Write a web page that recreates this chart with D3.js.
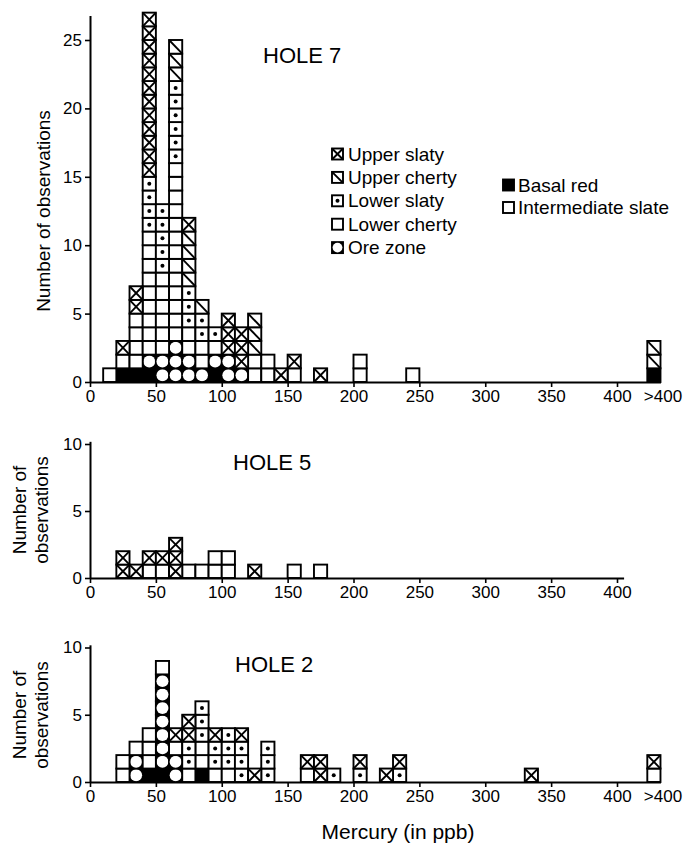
<!DOCTYPE html>
<html>
<head>
<meta charset="utf-8">
<script src="https://cdn.jsdelivr.net/npm/d3@7"></script>
<style>
body { margin: 0; background: #fff; }
text { font-family: "Liberation Sans", Arial, Helvetica, sans-serif; fill: #000; }
</style>
</head>
<body>
<svg width="688" height="847"></svg>
<script>
// rock units, in the order they stack from the bottom of each column
var units = ["BR", "OZ", "LC", "LS", "UC", "US"];
var unitNames = { US: "Upper slaty", UC: "Upper cherty", LS: "Lower slaty",
  LC: "Lower cherty", OZ: "Ore zone", BR: "Basal red", IS: "Intermediate slate" };
var legendLeft = ["US", "UC", "LS", "LC", "OZ"];
var legendRight = ["BR", "IS"];

var xTicks = [0, 50, 100, 150, 200, 250, 300, 350, 400];

// hole 7 - bins are 10 ppb wide, named by their lower edge
var hole7Bins = ["10", "20", "30", "40", "50", "60", "70", "80", "90", "100", "110", "120", "130", "140", "150", "170", "200", "240", ">400"];
var hole7 = {
  BR: [0, 1, 1, 1, 0, 0, 0, 0, 1, 0, 0, 0, 0, 0, 0, 0, 0, 0, 1],
  OZ: [0, 0, 0, 1, 2, 3, 2, 1, 1, 2, 1, 0, 0, 0, 0, 0, 0, 0, 0],
  LC: [1, 1, 4, 9, 6, 13, 2, 2, 1, 0, 0, 2, 2, 0, 1, 0, 2, 1, 0],
  LS: [0, 0, 0, 4, 5, 6, 3, 2, 1, 0, 0, 0, 0, 0, 0, 0, 0, 0, 0],
  UC: [0, 0, 0, 0, 0, 3, 4, 1, 0, 0, 0, 3, 0, 0, 0, 0, 0, 0, 2],
  US: [0, 1, 2, 12, 0, 0, 1, 0, 0, 3, 3, 0, 0, 1, 1, 1, 0, 0, 0]
};

// hole 5
var hole5Bins = ["20", "30", "40", "50", "60", "70", "80", "90", "100", "120", "150", "170"];
var hole5 = {
  LC: [0, 0, 1, 1, 0, 1, 1, 2, 2, 0, 1, 1],
  US: [2, 1, 1, 1, 3, 0, 0, 0, 0, 1, 0, 0]
};

// hole 2
var hole2Bins = ["20", "30", "40", "50", "60", "70", "80", "90", "100", "110", "120", "130", "160", "170", "180", "200", "220", "230", "330", ">400"];
var hole2 = {
  BR: [0, 0, 1, 1, 0, 0, 1, 0, 0, 0, 0, 0, 0, 0, 0, 0, 0, 0, 0, 0],
  OZ: [0, 2, 0, 7, 2, 0, 0, 0, 0, 0, 0, 0, 0, 0, 0, 0, 0, 0, 0, 0],
  LC: [2, 1, 3, 1, 1, 1, 2, 1, 1, 0, 0, 0, 1, 0, 0, 0, 0, 0, 0, 1],
  LS: [0, 0, 0, 0, 0, 2, 3, 2, 3, 3, 0, 3, 0, 0, 1, 1, 0, 1, 0, 0],
  US: [0, 0, 0, 0, 1, 2, 0, 1, 0, 1, 1, 0, 1, 2, 0, 1, 1, 1, 1, 1]
};

var svg = d3.select("svg");
var x = d3.scaleLinear().domain([0, 400]).range([90, 617]);
var overflowStart = 423;   // where the ">400" column sits on the axis

function binStart(b) { return b === ">400" ? overflowStart : +b; }

// one square of the pattern for a unit
function drawCell(g, x0, y0, w, h, code) {
  var sw = 1.9;
  var fill = (code === "BR" || code === "OZ") ? "#000" : "#fff";
  g.append("rect").attr("x", x0).attr("y", y0).attr("width", w).attr("height", h)
    .attr("fill", fill).attr("stroke", "#000").attr("stroke-width", sw);
  if (code === "OZ") {
    g.append("circle").attr("cx", x0 + w / 2).attr("cy", y0 + h / 2)
      .attr("r", Math.min(w, h) / 2 - 0.6).attr("fill", "#fff");
  }
  if (code === "LS") {
    g.append("circle").attr("cx", x0 + w / 2).attr("cy", y0 + h / 2)
      .attr("r", 2).attr("fill", "#000");
  }
  if (code === "UC" || code === "US") {
    g.append("line").attr("x1", x0).attr("y1", y0).attr("x2", x0 + w).attr("y2", y0 + h)
      .attr("stroke", "#000").attr("stroke-width", sw);
  }
  if (code === "US") {
    g.append("line").attr("x1", x0 + w).attr("y1", y0).attr("x2", x0).attr("y2", y0 + h)
      .attr("stroke", "#000").attr("stroke-width", sw);
  }
}

function panel(cfg) {
  var y = d3.scaleLinear().domain([0, cfg.yMax]).range([cfg.base, cfg.base - cfg.yMax * cfg.unit]);
  var g = svg.append("g");

  // stack the counts
  var keys = units.filter(function(u) { return cfg.counts[u]; });
  var rows = cfg.bins.map(function(b, i) {
    var r = { bin: b };
    keys.forEach(function(k) { r[k] = cfg.counts[k][i]; });
    return r;
  });
  var series = d3.stack().keys(keys)(rows);
  series.forEach(function(s) {
    s.forEach(function(d) {
      var s0 = binStart(d.data.bin);
      for (var k = d[0]; k < d[1]; k++) {
        drawCell(g, x(s0), y(k + 1), x(s0 + 10) - x(s0), y(k) - y(k + 1), s.key);
      }
    });
  });

  // axes
  var xa = x.copy().domain([0, cfg.xEnd]).range([x(0), x(cfg.xEnd)]);
  var gx = g.append("g").attr("transform", "translate(0," + cfg.base + ")")
    .call(d3.axisBottom(xa).tickValues(xTicks).tickSize(5).tickPadding(3).tickSizeOuter(0));
  var gy = g.append("g").attr("transform", "translate(" + x(0) + ",0)")
    .call(d3.axisLeft(y).tickValues(cfg.yTicks).tickSize(5).tickPadding(3).tickSizeOuter(0));
  [gx, gy].forEach(function(a) {
    a.attr("font-family", null).attr("font-size", 17);
    a.select(".domain").attr("stroke-width", 2);
    a.selectAll(".tick line").attr("stroke-width", 1.6);
  });
  if (cfg.overflow) {
    gx.append("text").attr("x", 663).attr("y", 8).attr("dy", "0.71em")
      .attr("text-anchor", "middle").attr("font-size", 17).text(">400");
  }

  g.append("text").attr("x", cfg.titleX).attr("y", cfg.titleY)
    .attr("font-size", 22).text(cfg.title);

  var yl = g.append("text").attr("transform", "translate(" + cfg.ylabX + "," + cfg.ylabY + ") rotate(-90)")
    .attr("text-anchor", "middle").attr("font-size", 19);
  cfg.ylab.forEach(function(t, i) {
    yl.append("tspan").attr("x", 0).attr("dy", i === 0 ? 0 : "1.15em").text(t);
  });
}

panel({ bins: hole7Bins, counts: hole7, base: 382, unit: 13.68, yMax: 26.8,
  yTicks: [0, 5, 10, 15, 20, 25], xEnd: overflowStart + 10, overflow: true,
  title: "HOLE 7", titleX: 263, titleY: 63,
  ylab: ["Number of observations"], ylabX: 50, ylabY: 211 });

panel({ bins: hole5Bins, counts: hole5, base: 578, unit: 13.4, yMax: 10.2,
  yTicks: [0, 5, 10], xEnd: 405, overflow: false,
  title: "HOLE 5", titleX: 233, titleY: 470,
  ylab: ["Number of", "observations"], ylabX: 26, ylabY: 510 });

panel({ bins: hole2Bins, counts: hole2, base: 782, unit: 13.45, yMax: 10.2,
  yTicks: [0, 5, 10], xEnd: overflowStart + 10, overflow: true,
  title: "HOLE 2", titleX: 235, titleY: 672,
  ylab: ["Number of", "observations"], ylabX: 26, ylabY: 715 });

// x title
svg.append("text").attr("x", 398).attr("y", 839).attr("text-anchor", "middle")
  .attr("font-size", 21).text("Mercury (in ppb)");

// legend
var lg = svg.append("g");
legendLeft.forEach(function(u, i) {
  var cy = 154 + i * 23.4;
  drawCell(lg, 332, cy - 5.5, 11, 11, u);
  lg.append("text").attr("x", 348).attr("y", cy + 6.5).attr("font-size", 19).text(unitNames[u]);
});
legendRight.forEach(function(u, i) {
  var cy = 185 + i * 22.5;
  drawCell(lg, 503, cy - 5.5, 11, 11, u);
  lg.append("text").attr("x", 518).attr("y", cy + 6.5).attr("font-size", 19).text(unitNames[u]);
});
</script>
</body>
</html>
